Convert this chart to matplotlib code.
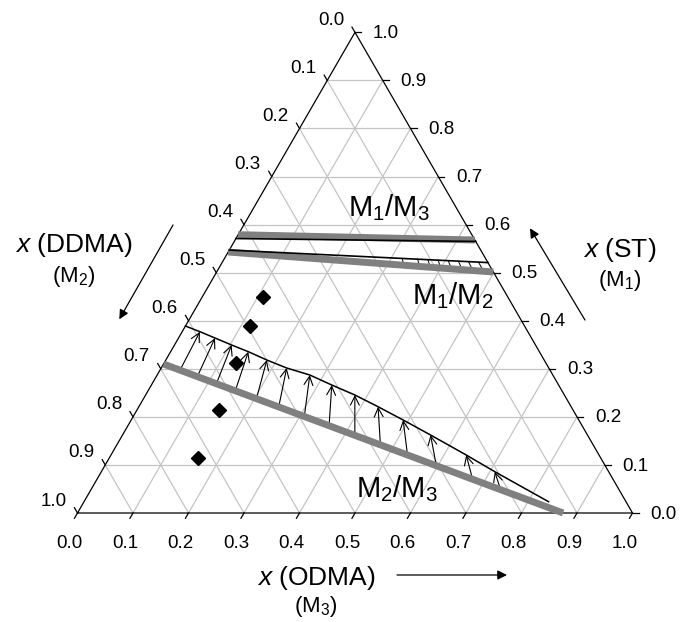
import numpy as np
import matplotlib
matplotlib.use("Agg")
import matplotlib.pyplot as plt

plt.rcParams['font.family'] = ['Liberation Sans', 'DejaVu Sans']
plt.rcParams['mathtext.fontset'] = 'custom'
plt.rcParams['mathtext.rm'] = 'Liberation Sans'
plt.rcParams['mathtext.it'] = 'Liberation Sans:italic'

# axis ticks (mole fractions)
ticks = np.round(np.arange(0, 1.01, 0.1), 1)
tick_labels = [f"{t:.1f}" for t in ticks]

# compositions as (x ODMA, x ST); x DDMA = 1 - both
m13_gray_odma = [0.0, 0.432]
m13_gray_st = [0.579, 0.568]
m13_black_odma = [0.0, 0.435]
m13_black_st = [0.571, 0.565]

m12_gray_odma = [0.0, 0.4986]
m12_gray_st = [0.543, 0.5014]
m12_black_odma = [0.0, 0.479]
m12_black_st = [0.547, 0.521]
m12_ties_odma = [0.33, 0.36, 0.38, 0.40, 0.42, 0.44, 0.46, 0.48]

m23_gray_odma = [0.0, 0.875]
m23_gray_st = [0.310, 0.0]
m23_curve_odma = [0.0, 0.032, 0.0657, 0.103, 0.140, 0.182, 0.226, 0.275,
                  0.325, 0.377, 0.431, 0.490, 0.555, 0.640, 0.709, 0.837]
m23_curve_st = [0.389, 0.3772, 0.3641, 0.3495, 0.3356, 0.3183, 0.3017, 0.2871,
                0.2663, 0.2455, 0.2211, 0.1935, 0.1623, 0.1207, 0.0859, 0.0235]

pts_odma = [0.109, 0.116, 0.130, 0.147, 0.160]
pts_st = [0.450, 0.390, 0.3115, 0.215, 0.114]

H = np.sqrt(3) / 2
APEX = np.array([0.5, H])


def tern(odma, st):
    odma = np.asarray(odma, float)
    st = np.asarray(st, float)
    return odma + st / 2, st * H


def hit(p, g0, g1):
    # point where the ray apex -> p meets segment g0-g1
    d = p - APEX
    e = g1 - g0
    A = np.array([[d[0], -e[0]], [d[1], -e[1]]])
    s, u = np.linalg.solve(A, g0 - APEX)
    return APEX + s * d


fig = plt.figure(figsize=(6.8, 6.22), dpi=100)
ax = fig.add_axes([0, 0, 1, 1])
ax.set_xlim(-77.5 / 555, (680 - 77.5) / 555)
ax.set_ylim((513 - 622) / 555, 513 / 555)
ax.axis('off')

grid = dict(color='#c4c4c4', lw=0.9, zorder=1)
for v in ticks[1:-1]:
    ax.plot(*tern([0, 1 - v], [v, v]), **grid)
    ax.plot(*tern([v, v], [0, 1 - v]), **grid)
    ax.plot(*tern([0, 1 - v], [1 - v, 0]), **grid)

ax.plot([0, 1, 0.5, 0], [0, 0, H, 0], color='black', lw=0.9, zorder=2)

L = 0.011
for v, lab in zip(ticks, tick_labels):
    # bottom: ODMA
    x, y = tern(v, 0)
    ax.plot([x, x - 0.5 * L], [y, y - H * L], color='black', lw=0.9)
    ax.text(x - 0.0144, y - 0.055, lab, ha='center', va='center', fontsize=13.5)
    # right: ST
    x, y = tern(1 - v, v)
    ax.plot([x, x + L], [y, y], color='black', lw=0.9)
    ax.text(x + 0.0559, y - 0.002, lab, ha='center', va='center', fontsize=13.5)
    # left: DDMA
    x, y = tern(0, 1 - v)
    ax.plot([x, x - 0.5 * L], [y, y + H * L], color='black', lw=0.9)
    ax.text(x - 0.0432, y + 0.0216, lab, ha='center', va='center', fontsize=13.5)

gray = '#808080'
ax.plot(*tern(m13_gray_odma, m13_gray_st), color=gray, lw=5, solid_capstyle='butt', zorder=3)
ax.plot(*tern(m13_black_odma, m13_black_st), color='black', lw=1.2, zorder=4)
ax.plot(*tern(m12_gray_odma, m12_gray_st), color=gray, lw=5, solid_capstyle='butt', zorder=3)
ax.plot(*tern(m12_black_odma, m12_black_st), color='black', lw=1.2, zorder=4)

# short tie lines between the M1/M2 lines
g0 = np.array(tern(m12_gray_odma[0], m12_gray_st[0]))
g1 = np.array(tern(m12_gray_odma[1], m12_gray_st[1]))
b0 = np.array(tern(m12_black_odma[0], m12_black_st[0]))
b1 = np.array(tern(m12_black_odma[1], m12_black_st[1]))
for o in m12_ties_odma:
    t = o / m12_gray_odma[1]
    p = g0 + t * (g1 - g0)
    q = hit(p, b0, b1)
    ax.plot([p[0], q[0]], [p[1], q[1]], color='black', lw=0.7, zorder=2.5)

ax.plot(*tern(m23_gray_odma, m23_gray_st), color=gray, lw=5, solid_capstyle='butt', zorder=3)
ax.plot(*tern(m23_curve_odma, m23_curve_st), color='black', lw=1.1, zorder=4)

g0 = np.array(tern(m23_gray_odma[0], m23_gray_st[0]))
g1 = np.array(tern(m23_gray_odma[1], m23_gray_st[1]))
for o, s in zip(m23_curve_odma[1:-1], m23_curve_st[1:-1]):
    tip = np.array(tern(o, s))
    base = hit(tip, g0, g1)
    ax.annotate('', xy=tip, xytext=base,
                arrowprops=dict(arrowstyle='->', lw=0.8, color='black',
                                mutation_scale=16, shrinkA=0, shrinkB=0),
                zorder=2.5)

ax.plot(*tern(pts_odma, pts_st), linestyle='none', marker='D', ms=7,
        color='black', zorder=5)

ax.text(0.5607, 0.5495, r'$\mathregular{M_1/M_3}$', ha='center', va='center', fontsize=21)
ax.text(0.6766, 0.391, r'$\mathregular{M_1/M_2}$', ha='center', va='center', fontsize=21)
ax.text(0.5748, 0.0432, r'$\mathregular{M_2/M_3}$', ha='center', va='center', fontsize=21)

# axis titles with direction arrows
head = dict(arrowstyle='-|>', lw=0.9, color='black', mutation_scale=14,
            shrinkA=0, shrinkB=0)
ax.text(0.4297, -0.1171, r'$\mathit{x}$ (ODMA)', ha='center', va='center', fontsize=19)
ax.text(0.4297, -0.1688, r'($\mathregular{M_3}$)', ha='center', va='center', fontsize=16)
ax.annotate('', xy=(0.7739, -0.1117), xytext=(0.5757, -0.1117), arrowprops=head)

ax.text(-0.0063, 0.4829, r'$\mathit{x}$ (DDMA)', ha='center', va='center', fontsize=19)
ax.text(-0.0063, 0.4258, r'($\mathregular{M_2}$)', ha='center', va='center', fontsize=16)
ax.annotate('', xy=(0.0753, 0.349), xytext=(0.1721, 0.5189), arrowprops=head)

ax.text(0.9769, 0.4739, r'$\mathit{x}$ (ST)', ha='center', va='center', fontsize=19)
ax.text(0.9775, 0.4198, r'($\mathregular{M_1}$)', ha='center', va='center', fontsize=16)
ax.annotate('', xy=(0.8153, 0.513), xytext=(0.9144, 0.3477), arrowprops=head)

fig.savefig('out.png', dpi=100, facecolor='white')
